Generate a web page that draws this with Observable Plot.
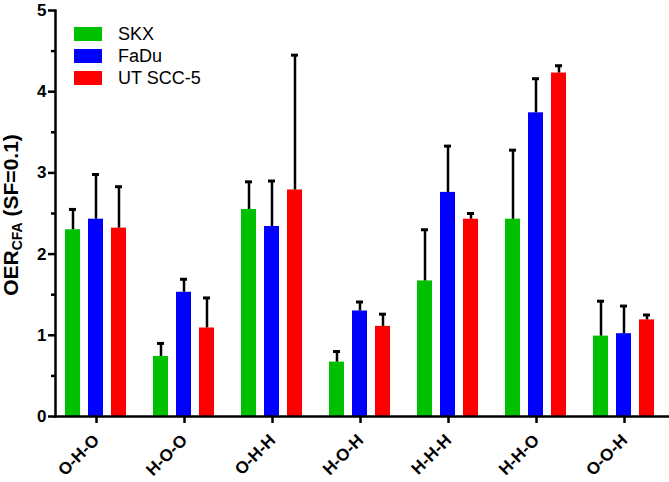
<!DOCTYPE html>
<html>
<head>
<meta charset="utf-8">
<script src="https://cdn.jsdelivr.net/npm/d3@7"></script>
<script src="https://cdn.jsdelivr.net/npm/@observablehq/plot@0.6"></script>
<style>
  html, body { margin: 0; padding: 0; background: #fff; }
  #wrap { position: relative; width: 669px; height: 482px; font-family: "Liberation Sans", Arial, sans-serif; }
  #legend { position: absolute; left: 74px; top: 23px; }
  .row { display: flex; align-items: center; height: 22px; }
  .sw { width: 28px; height: 14px; margin-right: 16px; }
  .lab { font-size: 18px; color: #000; }
</style>
</head>
<body>
<div id="wrap"></div>
<script>
const categories = ["O-H-O", "H-O-O", "O-H-H", "H-O-H", "H-H-H", "H-H-O", "O-O-H"];
const series = ["SKX", "FaDu", "UT SCC-5"];
const colors = ["#00c000", "#0000ff", "#ff0000"];
const skx = [2.30, 0.74, 2.55, 0.67, 1.67, 2.43, 0.99];
const skxErr = [0.25, 0.16, 0.34, 0.13, 0.63, 0.85, 0.43];
const fadu = [2.43, 1.53, 2.34, 1.30, 2.76, 3.74, 1.02];
const faduErr = [0.55, 0.16, 0.56, 0.11, 0.57, 0.42, 0.34];
const ut = [2.32, 1.09, 2.79, 1.11, 2.43, 4.23, 1.19];
const utErr = [0.51, 0.37, 1.66, 0.15, 0.07, 0.09, 0.06];
const yTicks = [0, 1, 2, 3, 4, 5];
const yMinor = [0.5, 1.5, 2.5, 3.5, 4.5];

const values = [skx, fadu, ut];
const errs = [skxErr, faduErr, utErr];
const data = [];
categories.forEach((c, i) => {
  series.forEach((s, j) => {
    data.push({category: c, series: s, value: values[j][i], top: values[j][i] + errs[j][i]});
  });
});

const font = "'Liberation Sans', Arial, sans-serif";
const chart = Plot.plot({
  width: 669,
  height: 482,
  marginLeft: 54,
  marginRight: 4,
  marginTop: 10,
  marginBottom: 66,
  style: {fontFamily: font, background: "#fff"},
  fx: {domain: categories, paddingInner: 0.07, paddingOuter: 0, label: null},
  x: {domain: series, paddingInner: 0.333, paddingOuter: 0.375, axis: null},
  y: {domain: [0, 5], axis: null},
  color: {domain: series, range: colors},
  marks: [
    Plot.barY(data, {fx: "category", x: "series", y: "value", fill: "series"}),
    Plot.ruleX(data, {fx: "category", x: "series", y1: "value", y2: "top", stroke: "#000", strokeWidth: 2.5}),
    Plot.tickY(data, {fx: "category", x: "series", y: "top", stroke: "#000", strokeWidth: 3, insetLeft: 4, insetRight: 4}),
    Plot.axisY({ticks: yTicks, tickSize: 7, tickPadding: 2, strokeWidth: 2.5, fontSize: 17, fontWeight: "bold", tickFormat: d3.format("d"), label: null, anchor: "left"}),
    Plot.axisY({ticks: yMinor, tickSize: 4, strokeWidth: 2.5, tickFormat: () => "", label: null, anchor: "left"}),
    Plot.frame({anchor: "left", stroke: "#000", strokeWidth: 2.5, facet: "super"}),
    Plot.frame({anchor: "bottom", stroke: "#000", strokeWidth: 2.5, facet: "super", insetRight: -4}),
    Plot.axisFx({anchor: "bottom", tickSize: 7, strokeWidth: 2.5, tickRotate: -45, tickPadding: 14, fontSize: 17, fontWeight: "bold", label: null})
  ]
});

const wrap = document.getElementById("wrap");
wrap.appendChild(chart);

// y-axis title with subscript
const svg = d3.select(chart.tagName.toLowerCase() === "svg" ? chart : chart.querySelector("svg"));
const t = svg.append("text")
  .attr("transform", "translate(18,215) rotate(-90)")
  .attr("text-anchor", "middle")
  .attr("font-family", font)
  .attr("font-weight", "bold")
  .attr("font-size", 21)
  .attr("fill", "#000");
t.append("tspan").text("OER");
t.append("tspan").attr("font-size", 14).attr("dy", 4).text("CFA");
t.append("tspan").attr("dy", -4).text(" (SF=0.1)");

// legend
const legend = document.createElement("div");
legend.id = "legend";
series.forEach((s, j) => {
  const row = document.createElement("div");
  row.className = "row";
  const sw = document.createElement("div");
  sw.className = "sw";
  sw.style.background = colors[j];
  const lab = document.createElement("span");
  lab.className = "lab";
  lab.textContent = s;
  row.appendChild(sw);
  row.appendChild(lab);
  legend.appendChild(row);
});
wrap.appendChild(legend);
</script>
</body>
</html>
